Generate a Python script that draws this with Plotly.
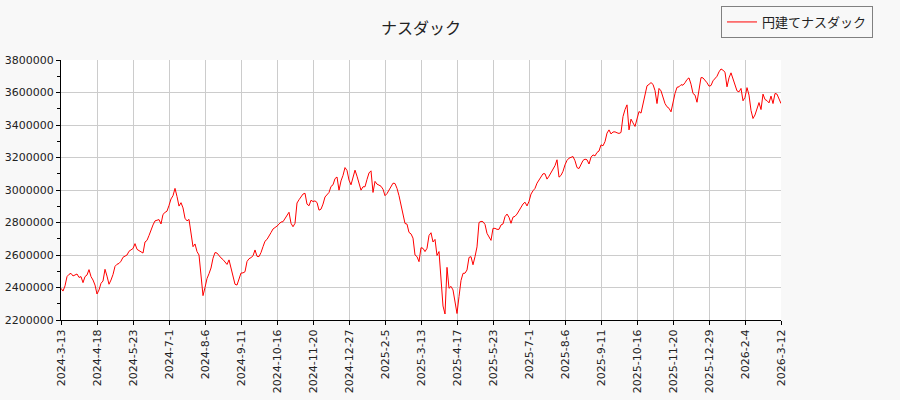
import plotly.graph_objects as go

# tick labels (one every 18 points)
tick_labels = [
    "2024-3-13", "2024-4-18", "2024-5-23", "2024-7-1", "2024-8-6", "2024-9-11",
    "2024-10-16", "2024-11-20", "2024-12-27", "2025-2-5", "2025-3-13", "2025-4-17",
    "2025-5-23", "2025-7-1", "2025-8-6", "2025-9-11", "2025-10-16", "2025-11-20",
    "2025-12-29", "2026-2-4", "2026-3-12",
]
points_per_tick = 18

# values, in order
vals_2024a = [
    2395000, 2378000, 2410000, 2467000, 2481000, 2487000, 2471000, 2479000, 2483000, 2462000,
    2467000, 2430000, 2467000, 2477000, 2510000, 2467000, 2446000, 2415000, 2360000, 2385000,
    2426000, 2440000, 2512000, 2470000, 2420000, 2446000, 2480000, 2530000, 2543000, 2548000,
    2562000, 2586000, 2594000, 2600000, 2623000, 2629000, 2640000, 2670000, 2635000, 2627000,
    2621000, 2612000, 2680000, 2690000, 2720000, 2755000, 2785000, 2810000, 2815000, 2818000,
    2791000, 2850000, 2862000, 2870000, 2905000, 2945000, 2965000, 3010000,
]
vals_2024b = [
    2960000, 2901000, 2922000, 2890000, 2826000, 2810000, 2819000, 2740000, 2651000, 2668000,
    2621000, 2600000, 2477000, 2350000, 2400000, 2455000, 2485000, 2520000, 2580000, 2615000,
    2612000, 2595000, 2582000, 2572000, 2553000, 2542000, 2570000, 2518000, 2460000, 2420000,
    2415000, 2446000, 2489000, 2490000, 2497000, 2560000, 2577000, 2584000, 2595000, 2631000,
    2592000, 2590000, 2615000, 2651000, 2685000, 2696000, 2721000, 2738000, 2760000, 2767000,
    2778000, 2790000, 2803000, 2805000, 2822000, 2840000, 2863000, 2795000, 2774000, 2795000,
]
vals_2024c = [
    2920000, 2940000, 2958000, 2975000, 2980000, 2913000, 2903000, 2937000, 2929000, 2933000,
    2923000, 2876000, 2882000, 2913000, 2957000, 2968000, 2985000, 3022000, 3032000, 3070000,
    3080000, 2999000, 3056000, 3090000, 3138000, 3120000, 3061000, 3032000, 3077000, 3122000,
    3085000, 3040000, 2999000, 3020000, 3020000, 3065000, 3105000, 3118000, 2985000, 3053000,
    3036000, 3030000, 3023000, 3005000, 2965000, 2978000, 2998000, 3025000, 3042000, 3040000,
    3010000, 2965000, 2903000, 2843000, 2794000, 2790000, 2739000, 2730000, 2704000, 2600000,
]
vals_2025a = [
    2590000, 2559000, 2645000, 2641000, 2621000, 2641000, 2720000, 2737000, 2680000, 2696000,
    2597000, 2621000, 2463000, 2286000, 2237000, 2524000, 2395000, 2407000, 2385000, 2320000,
    2240000, 2344000, 2443000, 2487000, 2488000, 2508000, 2585000, 2590000, 2540000, 2590000,
    2650000, 2800000, 2807000, 2805000, 2788000, 2733000, 2713000, 2690000, 2764000, 2764000,
    2758000, 2758000, 2785000, 2791000, 2836000, 2852000, 2832000, 2795000, 2833000, 2838000,
    2852000, 2875000, 2895000, 2914000, 2925000, 2902000, 2930000, 2975000, 2995000, 3010000,
]
vals_2025b = [
    3042000, 3063000, 3079000, 3100000, 3100000, 3067000, 3085000, 3110000, 3130000, 3150000,
    3186000, 3079000, 3090000, 3115000, 3155000, 3182000, 3196000, 3202000, 3206000, 3180000,
    3138000, 3132000, 3161000, 3182000, 3190000, 3186000, 3160000, 3202000, 3216000, 3210000,
    3231000, 3240000, 3278000, 3272000, 3298000, 3350000, 3370000, 3345000, 3357000, 3358000,
    3352000, 3348000, 3354000, 3452000, 3495000, 3524000, 3370000, 3436000, 3413000, 3391000,
    3437000, 3483000, 3473000, 3534000, 3600000, 3641000, 3650000, 3661000, 3650000, 3612000,
]
vals_2025c = [
    3532000, 3625000, 3610000, 3565000, 3532000, 3512000, 3503000, 3481000, 3540000, 3594000,
    3632000, 3635000, 3648000, 3645000, 3660000, 3680000, 3690000, 3651000, 3594000, 3584000,
    3540000, 3625000, 3692000, 3690000, 3676000, 3660000, 3639000, 3643000, 3672000, 3689000,
    3700000, 3727000, 3745000, 3737000, 3725000, 3635000, 3690000, 3721000, 3684000, 3651000,
    3610000, 3604000, 3625000, 3549000, 3570000, 3630000, 3584000, 3490000, 3440000, 3462000,
    3502000, 3538000, 3495000, 3590000, 3557000, 3550000, 3536000, 3578000, 3532000, 3594000,
    3590000, 3565000, 3532000,
]

values = vals_2024a + vals_2024b + vals_2024c + vals_2025a + vals_2025b + vals_2025c
xs = list(range(len(values)))
tick_pos = [i * points_per_tick for i in range(len(tick_labels))]

fig = go.Figure()
fig.add_trace(go.Scatter(
    x=xs, y=values, mode="lines", name="円建てナスダック",
    line=dict(color="#ff0000", width=1),
))

fig.update_layout(
    width=900, height=400,
    paper_bgcolor="#f8f8f8", plot_bgcolor="#ffffff",
    margin=dict(l=61, r=119, t=60, b=80, autoexpand=False),
    font=dict(family="DejaVu Sans, Noto Sans CJK JP", size=11, color="#222222"),
    title=dict(text="ナスダック", x=0.5, xref="paper", y=0.93, yanchor="middle",
               font=dict(family="Noto Sans CJK JP", size=16, color="#222222")),
    showlegend=True,
    legend=dict(x=0.97, y=0.985, xanchor="right", yanchor="top", xref="container", yref="container",
                bgcolor="#f8f8f8", bordercolor="#808080", borderwidth=1, itemwidth=30,
                font=dict(family="Noto Sans CJK JP", size=13, color="#222222")),
    xaxis=dict(range=[0, len(values) - 1], tickmode="array", tickvals=tick_pos, ticktext=tick_labels,
               tickangle=-90, showgrid=True, gridcolor="#cccccc", gridwidth=1,
               showline=True, linecolor="#000000", linewidth=1, automargin=False,
               ticks="outside", ticklen=4, tickcolor="#000000", zeroline=False),
    yaxis=dict(range=[2200000, 3800000], dtick=200000, tickformat="d",
               showgrid=True, gridcolor="#cccccc", gridwidth=1,
               showline=True, linecolor="#000000", linewidth=1, automargin=False,
               ticks="outside", ticklen=4, tickcolor="#000000", zeroline=False,
               minor=dict(dtick=100000, ticks="outside", ticklen=3, tickcolor="#000000", showgrid=False)),
)

fig.write_html("out.html", config={"displayModeBar": False},
               post_script="document.body.style.margin='0';")
